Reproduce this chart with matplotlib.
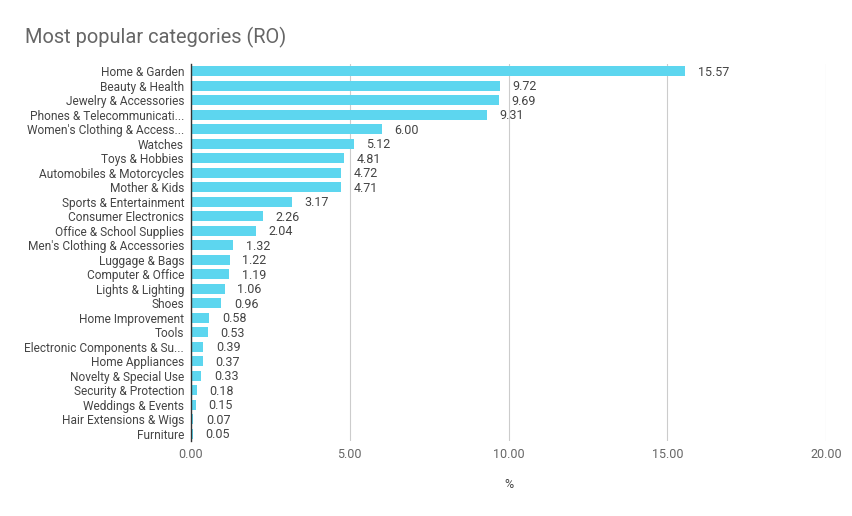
import matplotlib
matplotlib.use("Agg")
import matplotlib.pyplot as plt

plt.rcParams['font.family'] = ['Roboto', 'DejaVu Sans']

categories = ["Home & Garden", "Beauty & Health", "Jewelry & Accessories",
              "Phones & Telecommunicati...", "Women's Clothing & Access...",
              "Watches", "Toys & Hobbies", "Automobiles & Motorcycles",
              "Mother & Kids", "Sports & Entertainment", "Consumer Electronics",
              "Office & School Supplies", "Men's Clothing & Accessories",
              "Luggage & Bags", "Computer & Office", "Lights & Lighting", "Shoes",
              "Home Improvement", "Tools", "Electronic Components & Su...",
              "Home Appliances", "Novelty & Special Use", "Security & Protection",
              "Weddings & Events", "Hair Extensions & Wigs", "Furniture"]
values = [15.57, 9.72, 9.69, 9.31, 6.00, 5.12, 4.81, 4.72, 4.71, 3.17, 2.26,
          2.04, 1.32, 1.22, 1.19, 1.06, 0.96, 0.58, 0.53, 0.39, 0.37, 0.33,
          0.18, 0.15, 0.07, 0.05]
xticks = [0, 5, 10, 15, 20]

fig = plt.figure(figsize=(8.52, 5.16), dpi=100)
ax = fig.add_axes([0.2242, 0.1453, 0.7453, 0.7307])

pos = list(range(len(categories)))
ax.barh(pos, values, height=0.68, color='#5dd6ef', zorder=3)
for i, v in enumerate(values):
    ax.text(v + 0.4, i + 0.08, f"{v:.2f}", va='center', ha='left', fontsize=9, color='#444444')

ax.set_ylim(len(categories) - 0.5, -0.5)
ax.set_xlim(0, 20)
ax.set_yticks(pos)
ax.set_yticklabels(categories, fontsize=8.6, color='#444444')
ax.set_xticks(xticks)
ax.set_xticklabels([f"{t:.2f}" for t in xticks], fontsize=9, color='#666666')
ax.tick_params(axis='y', length=0, pad=5)
ax.tick_params(axis='x', length=0, pad=5)
ax.grid(axis='x', color='#cccccc', linewidth=0.8, zorder=0)
for s in ['top', 'right', 'bottom']:
    ax.spines[s].set_visible(False)
ax.spines['left'].set_color('#333333')
ax.spines['left'].set_linewidth(1)
ax.spines['left'].set_zorder(4)

ax.set_xlabel("%", fontsize=9, color='#444444', labelpad=12)
fig.text(25 / 852, 1 - 37 / 516, "Most popular categories (RO)", fontsize=14.4,
         color='#666666', va='center', ha='left')

fig.savefig("out.png", dpi=100)
